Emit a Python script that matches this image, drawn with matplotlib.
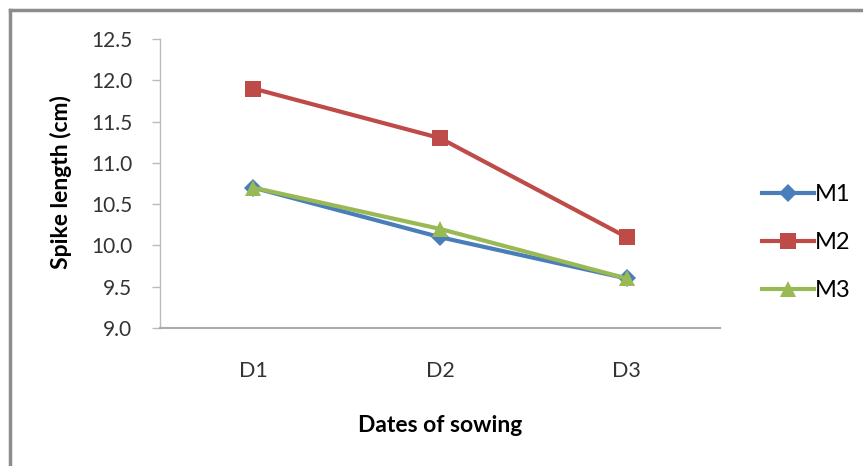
import matplotlib
matplotlib.use("Agg")
import matplotlib.pyplot as plt
from matplotlib.lines import Line2D

categories = ["D1", "D2", "D3"]
series_names = ["M1", "M2", "M3"]
m1 = [10.7, 10.1, 9.6]
m2 = [11.9, 11.3, 10.1]
m3 = [10.7, 10.2, 9.6]
yticks = [9.0, 9.5, 10.0, 10.5, 11.0, 11.5, 12.0, 12.5]

plt.rcParams['font.family'] = ['Lato', 'DejaVu Sans']

W, H = 863, 466
fig = plt.figure(figsize=(W / 100, H / 100), dpi=100)
ax = fig.add_axes([160 / W, 1 - 328 / H, 560 / W, 289 / H])

x = [0, 1, 2]
styles = [
    dict(color="#4A7EBB", marker="D", markersize=9.5),
    dict(color="#BE4B48", marker="s", markersize=11.5),
    dict(color="#98B954", marker="^", markersize=12),
]
lines = []
for vals, name, st in zip([m1, m2, m3], series_names, styles):
    ln, = ax.plot(x, vals, linewidth=3, label=name, markeredgewidth=0, **st)
    lines.append(ln)

ax.set_xlim(-0.5, 2.5)
ax.set_ylim(9.0, 12.5)
ax.set_yticks(yticks)
ax.set_yticklabels([f"{v:.1f}" for v in yticks], fontsize=15, color="#333333")
ax.set_xticks(x)
ax.set_xticklabels(categories, fontsize=15.5, color="#333333")
ax.tick_params(axis="x", length=0, pad=24)
ax.tick_params(axis="y", length=6, width=1, color="#BBBBBB", pad=14, direction="out")

for s in ["top", "right"]:
    ax.spines[s].set_visible(False)
ax.spines["left"].set_color("#BBBBBB")
ax.spines["bottom"].set_color("#AAAAAA")
ax.spines["left"].set_linewidth(1)
ax.spines["bottom"].set_linewidth(1.5)

fig.text(61 / W, 1 - 182 / H, "Spike length (cm)", rotation=90, ha="center",
         va="center", fontsize=16.5, fontweight="bold")
ax.set_xlabel("Dates of sowing", fontsize=16.5, fontweight="bold", labelpad=24)

leg = fig.legend(handles=lines, loc="upper left",
                 bbox_to_anchor=(750 / W, 1 - 172 / H), frameon=False,
                 fontsize=17, handlelength=2.2, labelspacing=1.15,
                 handletextpad=0.05, borderpad=0)

# figure frame (left and top edges visible)
fig.add_artist(Line2D([10 / W, 10 / W], [0, 1 - 10 / H], transform=fig.transFigure,
                      color="#8C8C8C", linewidth=2.5))
fig.add_artist(Line2D([10 / W, 1], [1 - 10 / H, 1 - 10 / H], transform=fig.transFigure,
                      color="#8C8C8C", linewidth=2.5))

fig.savefig("out.png", dpi=100)
